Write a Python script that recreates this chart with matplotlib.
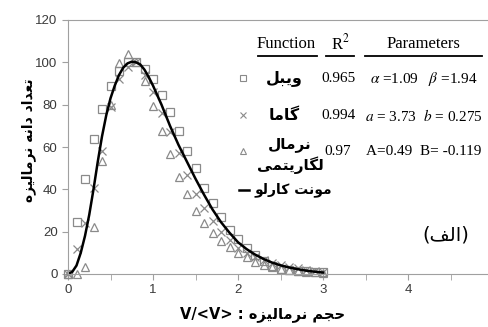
import matplotlib
matplotlib.use("Agg")
import matplotlib.pyplot as plt
from matplotlib.lines import Line2D

W, H = 488, 327

x_fit = [0.0, 0.1, 0.2, 0.3, 0.4, 0.5, 0.6, 0.7, 0.8, 0.9, 1.0,
         1.1, 1.2, 1.3, 1.4, 1.5, 1.6, 1.7, 1.8, 1.9, 2.0,
         2.1, 2.2, 2.3, 2.4, 2.5, 2.6, 2.7, 2.8, 2.9, 3.0]
weibull = [0, 24.5, 45, 64, 78, 89, 96, 100, 100, 97, 92,
           84.5, 76.5, 67.5, 58, 50, 40.5, 33.5, 27, 21, 16.5,
           12.5, 9, 6, 4, 2.5, 2, 1.5, 1.2, 1, 0.8]
gamma = [0, 12, 24, 40.5, 58, 79, 92, 98, 100, 94, 86,
         76, 67, 57, 47, 38, 31, 25, 20, 16, 12.5,
         10, 8, 6.5, 5.2, 4.2, 3.4, 2.6, 2, 1.5, 1.1]
lognormal = [0, 0, 3.5, 22, 53.5, 80, 99.5, 104, 100, 91, 79.5,
             67.5, 56.5, 46, 38, 30, 24, 19.5, 15.6, 12.7, 10,
             7.8, 5.8, 4.3, 3.3, 2.5, 2, 1.5, 1.1, 0.8, 0.6]

# Monte Carlo curve
x_mc = [0.0, 0.05, 0.1, 0.15, 0.2, 0.25, 0.3, 0.35, 0.4, 0.45, 0.5,
        0.55, 0.6, 0.65, 0.7, 0.75, 0.8, 0.85, 0.9, 0.95, 1.0,
        1.1, 1.2, 1.3, 1.4, 1.5, 1.6, 1.7, 1.8, 1.9, 2.0,
        2.1, 2.2, 2.3, 2.4, 2.5, 2.6, 2.7, 2.8, 2.9, 3.0]
y_mc = [0, 1, 4, 10, 18, 28, 40, 53, 65, 75, 83,
        89, 94, 97.5, 99.5, 100.3, 100, 99, 96.5, 93, 89,
        80, 70, 61, 53, 45, 37.5, 30.5, 24.5, 19.5, 15,
        11.8, 9.2, 7.1, 5.4, 4.1, 3.1, 2.3, 1.6, 1.1, 0.7]

# table of fits
r2 = ["0.965", "0.994", "0.97"]
params = [r"$\alpha$ =1.09   $\beta$ =1.94",
          r"$a$ = 3.73  $b$ = 0.275",
          "A=0.49  B= -0.119"]

# minimal arabic/persian shaping (matplotlib has no complex text layout)
FORMS = {
    '\u0627': ('\uFE8D', '\uFE8E', None, None),
    '\u0628': ('\uFE8F', '\uFE90', '\uFE91', '\uFE92'),
    '\u062A': ('\uFE95', '\uFE96', '\uFE97', '\uFE98'),
    '\u062C': ('\uFE9D', '\uFE9E', '\uFE9F', '\uFEA0'),
    '\u062D': ('\uFEA1', '\uFEA2', '\uFEA3', '\uFEA4'),
    '\u062F': ('\uFEA9', '\uFEAA', None, None),
    '\u0631': ('\uFEAD', '\uFEAE', None, None),
    '\u0632': ('\uFEAF', '\uFEB0', None, None),
    '\u0639': ('\uFEC9', '\uFECA', '\uFECB', '\uFECC'),
    '\u0641': ('\uFED1', '\uFED2', '\uFED3', '\uFED4'),
    '\u0644': ('\uFEDD', '\uFEDE', '\uFEDF', '\uFEE0'),
    '\u0645': ('\uFEE1', '\uFEE2', '\uFEE3', '\uFEE4'),
    '\u0646': ('\uFEE5', '\uFEE6', '\uFEE7', '\uFEE8'),
    '\u0647': ('\uFEE9', '\uFEEA', '\uFEEB', '\uFEEC'),
    '\u0648': ('\uFEED', '\uFEEE', None, None),
    '\u06A9': ('\uFB8E', '\uFB8F', '\uFB90', '\uFB91'),
    '\u06AF': ('\uFB92', '\uFB93', '\uFB94', '\uFB95'),
    '\u06CC': ('\uFBFC', '\uFBFD', '\uFBFE', '\uFBFF'),
}


def fa(text):
    out = []
    for i, ch in enumerate(text):
        if ch not in FORMS:
            out.append(ch)
            continue
        f = FORMS[ch]
        prev = text[i - 1] if i > 0 else None
        nxt = text[i + 1] if i + 1 < len(text) else None
        jp = prev in FORMS and FORMS[prev][2] is not None
        jn = nxt in FORMS and f[2] is not None
        if jp and jn:
            out.append(f[3])
        elif jp:
            out.append(f[1])
        elif jn:
            out.append(f[2])
        else:
            out.append(f[0])
    return ''.join(out[::-1])


names = ["ویبل", "گاما", "نرمال\nلگاریتمی"]

plt.rcParams['mathtext.fontset'] = 'stix'
fig = plt.figure(figsize=(W / 100, H / 100), dpi=100)
ax = fig.add_axes([68 / W, 1 - 274 / H, 425 / W, 254 / H])

grey = '#8a8a8a'
ax.plot(x_fit, weibull, 's', ms=5.2, mfc='none', mec=grey, mew=0.9, clip_on=False)
ax.plot(x_fit, gamma, 'x', ms=5.2, mec=grey, mew=0.9, clip_on=False)
ax.plot(x_fit, lognormal, '^', ms=5.2, mfc='none', mec=grey, mew=0.9, clip_on=False)
ax.plot(x_mc, y_mc, '-', color='black', lw=1.8)

ax.set_xlim(0, 5)
ax.set_ylim(0, 120)
ax.set_xticks([0, 1, 2, 3, 4, 5])
ax.set_xticklabels(['0', '1', '2', '3', '4', ''])
ax.set_xticks([0.5, 1.5, 2.5, 3.5, 4.5], minor=True)
ax.set_yticks(range(0, 121, 20))
for sp in ['left', 'bottom', 'top']:
    ax.spines[sp].set_color('#a0a0a0')
ax.spines['right'].set_visible(False)
ax.tick_params(which='both', direction='out', length=4, color='#a0a0a0',
               labelsize=9.5, labelcolor='#3a3a3a')
for lab in ax.get_xticklabels() + ax.get_yticklabels():
    lab.set_family('Liberation Sans')


def P(x, y):
    return x / W, 1 - y / H


# axis titles
fig.text(*P(29, 140), fa("تعداد دانه نرمالیزه"), rotation=90, ha='center',
         va='center', fontsize=10, fontweight='bold', family='DejaVu Sans')
fig.text(*P(263, 314), "V/<V> : " + fa("حجم نرمالیزه"), ha='center', va='center',
         fontsize=10.5, fontweight='bold', family='DejaVu Sans')

# table header
serif = 'Liberation Serif'
fig.text(*P(286, 44), "Function", ha='center', va='center', fontsize=12, family=serif)
fig.text(*P(340, 43), r"R$^2$", ha='center', va='center', fontsize=12, family=serif)
fig.text(*P(423, 44), "Parameters", ha='center', va='center', fontsize=12, family=serif)
for x0, x1 in [(258, 317), (326, 354), (365, 482)]:
    fig.add_artist(Line2D([x0 / W, x1 / W], [1 - 56 / H, 1 - 56 / H], color='black', lw=1.3))

rows_y = [78, 115, 151]
markers = ['s', 'x', '^']
for i in range(3):
    y = rows_y[i]
    fig.add_artist(Line2D([243 / W], [1 - y / H], marker=markers[i], ms=3.8,
                          mfc='none', mec=grey, mew=0.8, ls='none'))
    if i < 2:
        fig.text(*P(284, y), fa(names[i]), ha='center', va='center', fontsize=11.5,
                 fontweight='bold', family='DejaVu Sans')
    else:
        line1, line2 = names[i].split("\n")
        fig.text(*P(290, 145), fa(line1), ha='center', va='center', fontsize=11,
                 fontweight='bold', family='DejaVu Sans')
        fig.text(*P(290, 165), fa(line2), ha='center', va='center', fontsize=11,
                 fontweight='bold', family='DejaVu Sans')
    fig.text(*P(338, y + 1), r2[i], ha='center', va='center', fontsize=11, family=serif)
    fig.text(*P(424, y + 1), params[i], ha='center', va='center', fontsize=11, family=serif)

fig.add_artist(Line2D([239 / W, 249 / W], [1 - 190 / H, 1 - 190 / H], color='black', lw=1.8))
fig.text(*P(293, 190), fa("مونت کارلو"), ha='center', va='center', fontsize=10,
         fontweight='bold', family='DejaVu Sans')
fig.text(*P(446, 235), "(" + fa("الف") + ")", ha='center', va='center', fontsize=14,
         family='DejaVu Sans')

fig.savefig("out.png", dpi=100)
